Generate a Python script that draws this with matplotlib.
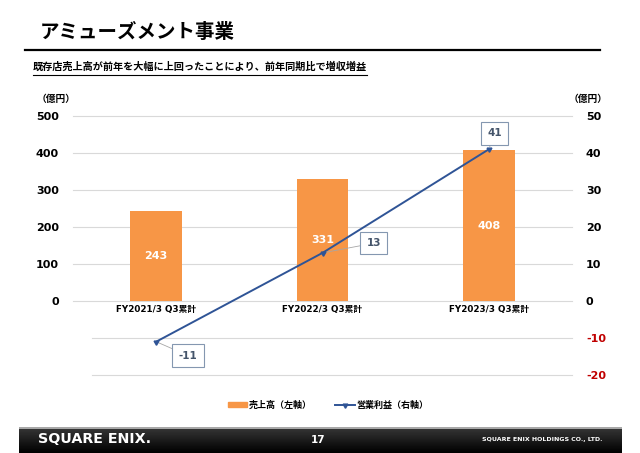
import matplotlib
matplotlib.use("Agg")
from matplotlib import pyplot as plt
from matplotlib.lines import Line2D
from matplotlib.patches import Patch
import numpy as np

plt.rcParams['font.family'] = ['Noto Sans CJK JP', 'DejaVu Sans']
LAT = ['DejaVu Sans', 'Noto Sans CJK JP']

# Data
categories = ["FY2021/3 Q3累計", "FY2022/3 Q3累計", "FY2023/3 Q3累計"]
sales = [243, 331, 408]
op_income = [-11, 13, 41]
left_ticks = [0, 100, 200, 300, 400, 500]
right_ticks = [-20, -10, 0, 10, 20, 30, 40, 50]

bar_color = '#F79646'
line_color = '#2F5496'
label_color = '#44546A'
grid_color = '#D9D9D9'

W, H = 640, 453
fig = plt.figure(figsize=(6.4, 4.53), dpi=100)

# Title + subtitle
fig.text(40 / W, 1 - 32 / H, "アミューズメント事業", fontsize=14, fontweight='bold',
         va='center', ha='left')
fig.add_artist(Line2D([25 / W, 600 / W], [1 - 50 / H, 1 - 50 / H], color='black', lw=1.6))
fig.text(33 / W, 1 - 67 / H, "既存店売上高が前年を大幅に上回ったことにより、前年同期比で増収増益",
         fontsize=7.3, fontweight='bold', va='center', ha='left')
fig.add_artist(Line2D([33 / W, 367 / W], [1 - 75 / H, 1 - 75 / H], color='black', lw=0.8))

# Main axes
ax = fig.add_axes([73 / W, 1 - 375 / H, (572 - 73) / W, (375 - 116) / H])
x = np.arange(len(categories))
ax.bar(x, sales, width=0.31, color=bar_color, zorder=2)
for xi, v in zip(x, sales):
    ax.text(xi, v / 2, str(v), color='white', fontsize=8, fontweight='bold',
            ha='center', va='center', zorder=3, family=LAT)

ax.set_xlim(-0.5, 2.5)
ax.set_ylim(-200, 500)
ax.set_yticks(left_ticks)
ax.set_yticklabels([str(t) for t in left_ticks], fontsize=8, fontweight='bold',
                   family=LAT)
ax.set_xticks([])
for s in ax.spines.values():
    s.set_visible(False)
ax.tick_params(axis='y', length=0, pad=10)

# gridlines
for t in left_ticks:
    ax.axhline(t, color=grid_color, lw=0.8, zorder=1, clip_on=False)
for t in [-100, -200]:
    ax.axhline(t, xmin=0.038, color=grid_color, lw=0.8, zorder=1, clip_on=False)

# category labels
for xi, c in zip(x, categories):
    ax.text(xi, -22, c, fontsize=6.3, fontweight='bold', ha='center', va='center',
            family=LAT)

ax.text(-0.034, 1.064, "（億円）", transform=ax.transAxes, fontsize=7,
        fontweight='bold', ha='center', va='center')

# Secondary axis
ax2 = ax.twinx()
ax2.set_ylim(-20, 50)
ax2.set_yticks(right_ticks)
ax2.set_yticklabels([str(t) for t in right_ticks], fontsize=8, fontweight='bold',
                    family=LAT)
for lbl, t in zip(ax2.get_yticklabels(), right_ticks):
    if t < 0:
        lbl.set_color('#C00000')
for s in ax2.spines.values():
    s.set_visible(False)
ax2.tick_params(axis='y', length=0, pad=10)
ax2.text(1.032, 1.064, "（億円）", transform=ax2.transAxes, fontsize=7,
         fontweight='bold', ha='center', va='center')

ax2.plot(x, op_income, color=line_color, lw=1.4, marker=(3, 0, -60),
         markersize=4, zorder=4)

offsets = [(23, -10), (37, 7), (4, 11.5)]
for xi, v, off in zip(x, op_income, offsets):
    ax2.annotate(str(v), xy=(xi, v), xytext=off, textcoords='offset points',
                 ha='center', va='center', fontsize=7.5, fontweight='bold',
                 color=label_color, family=LAT,
                 bbox=dict(boxstyle='square,pad=0.6', fc='white', ec='#8497B0', lw=0.8),
                 arrowprops=dict(arrowstyle='-', color='#A6A6A6', lw=0.6,
                                 shrinkA=0, shrinkB=2))

# Legend
handles = [Patch(color=bar_color, label="売上高（左軸）"),
           Line2D([0], [0], color=line_color, lw=1.4, marker=(3, 0, -60),
                  markersize=4, label="営業利益（右軸）")]
fig.legend(handles=handles, loc='center', bbox_to_anchor=(328 / W, 1 - 405 / H),
           ncol=2, frameon=False, prop={'size': 6.5, 'weight': 'bold'},
           handlelength=2.2, handleheight=0.6, columnspacing=2.5, handletextpad=0.2)

# Footer
fax = fig.add_axes([19 / W, 0, (622 - 19) / W, (453 - 427) / H])
grad = np.linspace(0.22, 0.0, 50).reshape(-1, 1)
fax.imshow(np.repeat(grad, 2, axis=1), cmap='gray', vmin=0, vmax=1,
           aspect='auto', extent=[0, 1, 0, 1])
fax.axhline(0.97, color='#BFBFBF', lw=1.2)
fax.set_xlim(0, 1)
fax.set_ylim(0, 1)
fax.axis('off')
fig.text(38 / W, 1 - 439 / H, "SQUARE ENIX.", color='white', fontsize=10.3,
         fontweight='bold', ha='left', va='center', family='DejaVu Sans')
fig.text(318 / W, 1 - 440 / H, "17", color='white', fontsize=7.5,
         fontweight='bold', ha='center', va='center', family=LAT)
fig.text(602 / W, 1 - 440 / H, "SQUARE ENIX HOLDINGS CO., LTD.", color='white',
         fontsize=4.5, fontweight='bold', ha='right', va='center', family='DejaVu Sans')

fig.savefig("out.png", dpi=100)
